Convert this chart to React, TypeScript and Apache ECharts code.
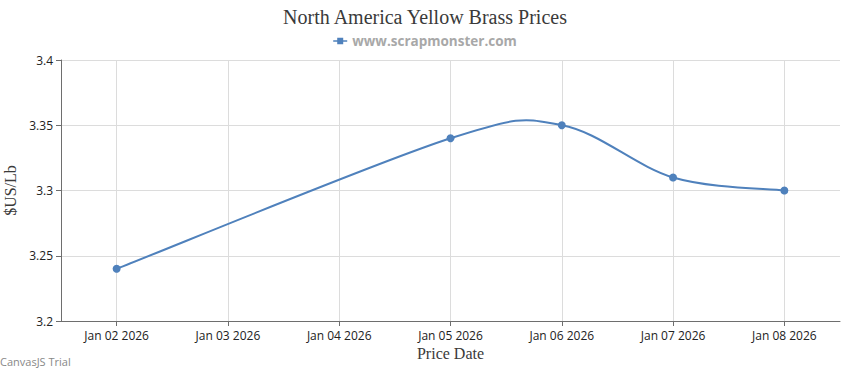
import React, { useEffect, useRef } from "react";
import * as echarts from "echarts";

const categories = [
  "Jan 02 2026",
  "Jan 03 2026",
  "Jan 04 2026",
  "Jan 05 2026",
  "Jan 06 2026",
  "Jan 07 2026",
  "Jan 08 2026",
];
const pointDates = ["Jan 02 2026", "Jan 05 2026", "Jan 06 2026", "Jan 07 2026", "Jan 08 2026"];
const pointValues = [3.24, 3.34, 3.35, 3.31, 3.3];
const yTicks = { min: 3.2, max: 3.4, interval: 0.05 };
const titleText = "North America Yellow Brass Prices";
const seriesName = "www.scrapmonster.com";

export default function App() {
  const ref = useRef<HTMLDivElement>(null);
  useEffect(() => {
    document.body.style.margin = "0";
    const chart = echarts.init(ref.current!, null, { renderer: "svg" });
    const blue = "#4f81bc";
    const pts = pointDates.map((d, i) => [categories.indexOf(d), pointValues[i]]);
    chart.setOption({
      animation: false,
      title: {
        text: titleText,
        left: "center",
        top: 2,
        textStyle: {
          fontFamily: "Liberation Serif",
          fontSize: 20,
          fontWeight: "normal",
          color: "#3a3a3a",
        },
      },
      legend: {
        top: 29,
        left: "center",
        itemWidth: 14,
        itemHeight: 7,
        itemGap: 5,
        icon: "path://M0,3 L14,3 L14,4.5 L0,4.5 Z M4,0.5 L10,0.5 L10,7 L4,7 Z",
        textStyle: {
          fontFamily: "Open Sans",
          fontSize: 13.5,
          fontWeight: "bold",
          color: "#a8a8a8",
        },
        data: [{ name: seriesName, itemStyle: { color: blue } }],
      },
      grid: { left: 61, right: 10, top: 60, bottom: 49, containLabel: false, outerBoundsMode: "none" },
      xAxis: {
        type: "category",
        data: categories,
        boundaryGap: true,
        name: "Price Date",
        nameLocation: "middle",
        nameGap: 23,
        nameTextStyle: { fontFamily: "Liberation Serif", fontSize: 16, color: "#3a3a3a" },
        axisLine: { show: true, lineStyle: { color: "#6e6e6e", width: 1 } },
        axisTick: { show: true, alignWithLabel: true, length: 5, lineStyle: { color: "#6e6e6e" } },
        axisLabel: { fontFamily: "Open Sans", fontSize: 12, color: "#222", margin: 8 },
        splitLine: { show: true, alignWithLabel: true, lineStyle: { color: "#dcdcdc", width: 1 } },
      },
      yAxis: {
        type: "value",
        min: yTicks.min,
        max: yTicks.max,
        interval: yTicks.interval,
        name: "$US/Lb",
        nameLocation: "middle",
        nameGap: 41,
        nameTextStyle: { fontFamily: "Liberation Serif", fontSize: 16, color: "#3a3a3a" },
        axisLine: { show: true, lineStyle: { color: "#6e6e6e", width: 1 } },
        axisTick: { show: true, length: 5, lineStyle: { color: "#6e6e6e" } },
        axisLabel: {
          fontFamily: "Open Sans",
          fontSize: 12,
          color: "#222",
          margin: 8,
          formatter: (v: number) => String(+v.toFixed(2)),
        },
        splitLine: { show: true, lineStyle: { color: "#dcdcdc", width: 1 } },
      },
      graphic: [
        {
          type: "text",
          left: 0,
          top: 356,
          style: { text: "CanvasJS Trial", font: "11px 'Open Sans'", fill: "#888" },
        },
      ],
      series: [
        {
          name: "spline",
          type: "custom",
          coordinateSystem: "cartesian2d",
          data: pts,
          encode: { x: 0, y: 1 },
          silent: true,
          z: 2,
          renderItem: (params: any, api: any) => {
            const i = params.dataIndex;
            if (i >= pts.length - 1) return null;
            const P = pts.map((p) => api.coord(p));
            const n = P.length;
            const a = P[i];
            const b = P[i + 1];
            const i1a = i === 0 ? 0 : i - 1;
            const i2a = i + 1;
            const i1b = i;
            const i2b = i + 1 === n - 1 ? i + 1 : i + 2;
            const d1 = [(P[i2a][0] - P[i1a][0]) / 2, (P[i2a][1] - P[i1a][1]) / 2];
            const d2 = [(P[i2b][0] - P[i1b][0]) / 2, (P[i2b][1] - P[i1b][1]) / 2];
            return {
              type: "bezierCurve",
              shape: {
                x1: a[0],
                y1: a[1],
                cpx1: a[0] + d1[0] / 3,
                cpy1: a[1] + d1[1] / 3,
                cpx2: b[0] - d2[0] / 3,
                cpy2: b[1] - d2[1] / 3,
                x2: b[0],
                y2: b[1],
              },
              style: { stroke: blue, lineWidth: 2, fill: "none" },
            };
          },
        },
        {
          name: seriesName,
          type: "line",
          data: pts,
          symbol: "circle",
          symbolSize: 8,
          z: 3,
          lineStyle: { color: blue, width: 2, opacity: 0 },
          itemStyle: { color: blue },
        },
      ],
    });
    return () => chart.dispose();
  }, []);
  return <div ref={ref} style={{ width: 850, height: 370 }} />;
}
